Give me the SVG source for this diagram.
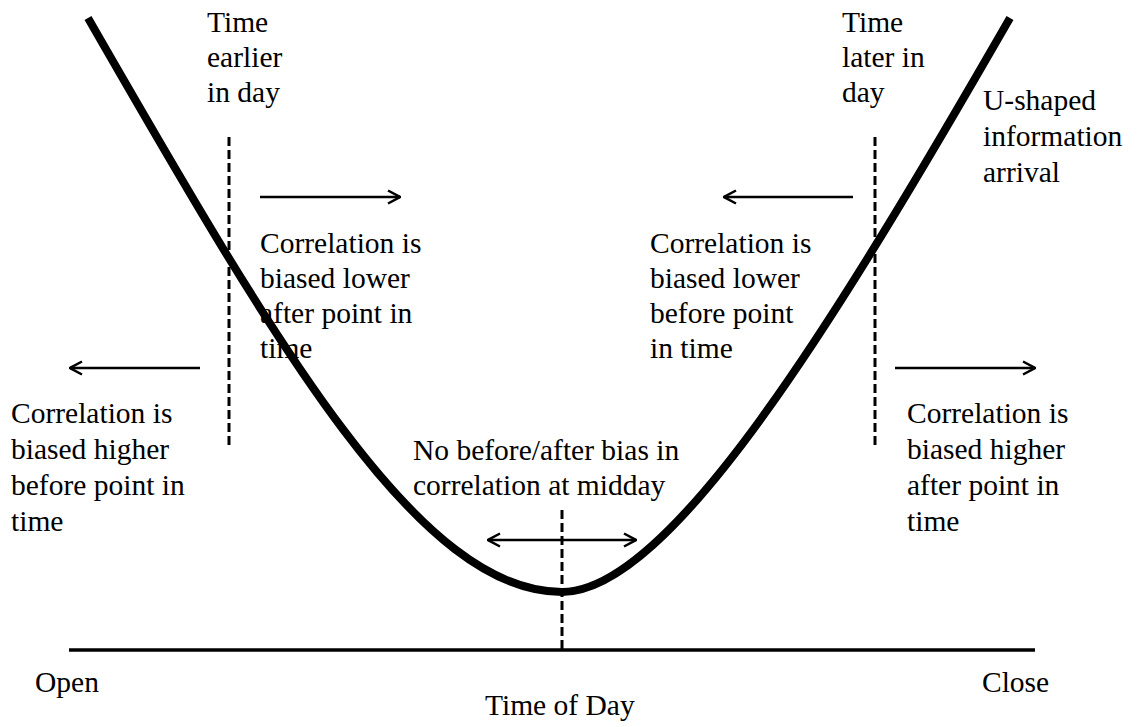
<svg xmlns="http://www.w3.org/2000/svg" width="1138" height="727" viewBox="0 0 1138 727">
<style>
.t{font-family:'Liberation Serif','Times New Roman','DejaVu Serif',serif;font-size:29.5px;fill:#000}
.dash{stroke:#000;stroke-width:3;stroke-dasharray:9 4;fill:none}
.arr{stroke:#000;stroke-width:2.5;fill:none}
</style>
<defs>
<marker id="ah" viewBox="0 0 14 16" refX="13" refY="8" markerWidth="14" markerHeight="16" markerUnits="userSpaceOnUse" orient="auto-start-reverse">
<path d="M1,1.5 L13,8 L1,14.5" fill="none" stroke="#000" stroke-width="2.5"/>
</marker>
</defs>
<rect width="1138" height="727" fill="#fff"/>
<g id="axis">
<line x1="69" y1="650" x2="1035" y2="650" stroke="#000" stroke-width="3.5"/>
<text class="t" x="35" y="692">Open</text>
<text class="t" x="982" y="692">Close</text>
<text class="t" x="485" y="715">Time of Day</text>
</g>
<g id="curve">
<path d="M88,18 C280,352 420,592 562,592 C670,592 835,322 1010,18" fill="none" stroke="#000" stroke-width="8"/>
<text class="t" x="983" y="110">U-shaped</text>
<text class="t" x="983" y="146">information</text>
<text class="t" x="983" y="182">arrival</text>
</g>
<g id="connectors">
<line class="dash" x1="229" y1="137" x2="229" y2="448"/>
<line class="dash" x1="875" y1="137" x2="875" y2="448"/>
<line class="dash" x1="562" y1="510" x2="562" y2="650"/>
<line class="arr" x1="260" y1="197" x2="400" y2="197" marker-end="url(#ah)"/>
<line class="arr" x1="200" y1="368" x2="70" y2="368" marker-end="url(#ah)"/>
<line class="arr" x1="853" y1="197" x2="724" y2="197" marker-end="url(#ah)"/>
<line class="arr" x1="895" y1="368" x2="1035" y2="368" marker-end="url(#ah)"/>
<line class="arr" x1="488" y1="540" x2="636" y2="540" marker-start="url(#ah)" marker-end="url(#ah)"/>
</g>
<g id="early">
<text class="t" x="207" y="32">Time</text>
<text class="t" x="207" y="67">earlier</text>
<text class="t" x="207" y="102">in day</text>
</g>
<g id="late">
<text class="t" x="842" y="32">Time</text>
<text class="t" x="842" y="67">later in</text>
<text class="t" x="842" y="102">day</text>
</g>
<g id="lowerAfter">
<text class="t" x="260" y="253">Correlation is</text>
<text class="t" x="260" y="288">biased lower</text>
<text class="t" x="260" y="323">after point in</text>
<text class="t" x="260" y="358">time</text>
</g>
<g id="lowerBefore">
<text class="t" x="650" y="253">Correlation is</text>
<text class="t" x="650" y="288">biased lower</text>
<text class="t" x="650" y="323">before point</text>
<text class="t" x="650" y="358">in time</text>
</g>
<g id="higherBefore">
<text class="t" x="11" y="423">Correlation is</text>
<text class="t" x="11" y="459">biased higher</text>
<text class="t" x="11" y="495">before point in</text>
<text class="t" x="11" y="531">time</text>
</g>
<g id="higherAfter">
<text class="t" x="907" y="423">Correlation is</text>
<text class="t" x="907" y="459">biased higher</text>
<text class="t" x="907" y="495">after point in</text>
<text class="t" x="907" y="531">time</text>
</g>
<g id="midday">
<text class="t" x="413" y="460">No before/after bias in</text>
<text class="t" x="413" y="495">correlation at midday</text>
</g>
</svg>
